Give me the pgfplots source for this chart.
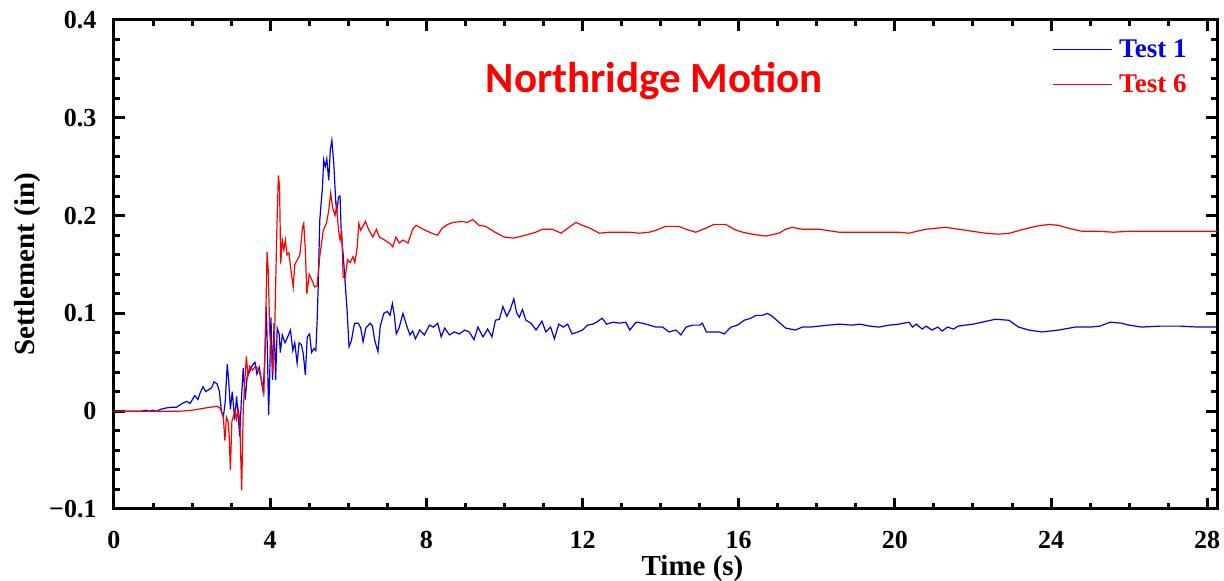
\documentclass[border=0pt]{standalone}
\usepackage{pgfplots}
\pgfplotsset{compat=1.18}
\usepackage{fontspec}
\setmainfont{Liberation Serif}
\newfontfamily\titlefont{Carlito}
\definecolor{tblue}{RGB}{0,0,225}
\definecolor{tred}{RGB}{255,0,0}
\begin{document}
\begin{tikzpicture}
\begin{axis}[
  line width=3pt,
  axis line style={line width=3pt},
  scale only axis, width=1103pt, height=489pt,
  xmin=0, xmax=28.25, ymin=-0.1, ymax=0.4,
  xtick={0,4,8,12,16,20,24,28}, xticklabels={0,4,8,12,16,20,24,28},
  ytick={-0.1,0,0.1,0.2,0.3,0.4}, yticklabels={−0.1,0,0.1,0.2,0.3,0.4},
  minor x tick num=3, minor y tick num=4,
  tick align=inside,
  major tick length=11pt, minor tick length=6pt,
  every tick/.style={black, line width=3pt},
  tick label style={font=\bfseries\fontsize{26}{26}\selectfont},
  yticklabel style={inner sep=0pt, anchor=east},
  xticklabel style={inner sep=0pt, anchor=north},
  yticklabel shift=16pt, xticklabel shift=21pt,
  xlabel={Time (s)}, ylabel={Settlement (in)},
  label style={font=\bfseries\fontsize{29}{29}\selectfont, inner sep=0pt},
  ylabel style={at={(axis description cs:-0.078,0.5)}, anchor=center},
  xlabel style={at={(axis description cs:0.5245,-0.1227)}, anchor=center},
  legend style={at={(1,1)}, anchor=north east, xshift=-27pt, yshift=-16pt, draw=none, fill=none,
    font=\bfseries\fontsize{27}{30}\selectfont, inner sep=0pt, row sep=12pt, column sep=5pt},
  legend cell align=left,
  legend image code/.code={\draw[#1] (0pt,0pt) -- (59pt,0pt);},
  clip=true,
]
\addplot[tblue, line width=1.2pt] coordinates {
(0,0) (0.7,0) (0.8,0.001) (0.9,0) (1.0,0.001) (1.1,0.0) (1.2,0.002) (1.3,0.003) (1.45,0.004) (1.6,0.004) (1.75,0.008) (1.86,0.010) (1.95,0.008) (2.07,0.016) (2.15,0.012) (2.2,0.018) (2.28,0.025) (2.35,0.020) (2.42,0.022) (2.5,0.024) (2.56,0.030) (2.64,0.028) (2.70,0.020) (2.75,0.000) (2.80,-0.006) (2.85,0.010) (2.90,0.048) (2.94,0.030) (2.98,0.002) (3.03,0.020) (3.09,-0.009) (3.14,0.015) (3.18,-0.005) (3.22,-0.026) (3.26,0.010) (3.31,0.044) (3.36,0.012) (3.41,0.035) (3.47,0.040) (3.53,0.046) (3.61,0.050) (3.66,0.038) (3.72,0.045) (3.78,0.030) (3.82,0.020) (3.86,0.052) (3.90,0.107) (3.93,0.060) (3.96,-0.004) (3.99,0.040) (4.02,0.096) (4.06,0.032) (4.10,0.090) (4.14,0.032) (4.18,0.085) (4.23,0.079) (4.26,0.060) (4.31,0.078) (4.38,0.070) (4.44,0.075) (4.52,0.083) (4.58,0.062) (4.63,0.070) (4.69,0.049) (4.74,0.070) (4.80,0.068) (4.85,0.058) (4.90,0.037) (4.95,0.076) (5.01,0.079) (5.06,0.060) (5.12,0.064) (5.17,0.062) (5.20,0.090) (5.23,0.127) (5.27,0.195) (5.31,0.215) (5.34,0.229) (5.37,0.257) (5.41,0.250) (5.45,0.258) (5.50,0.236) (5.54,0.267) (5.58,0.277) (5.63,0.253) (5.68,0.213) (5.71,0.205) (5.75,0.219) (5.79,0.220) (5.82,0.182) (5.87,0.160) (5.91,0.137) (5.97,0.103) (6.02,0.066) (6.08,0.072) (6.16,0.090) (6.26,0.090) (6.32,0.085) (6.38,0.071) (6.45,0.085) (6.56,0.090) (6.62,0.087) (6.68,0.072) (6.76,0.061) (6.82,0.087) (6.91,0.100) (7.0,0.102) (7.07,0.098) (7.13,0.110) (7.18,0.098) (7.23,0.079) (7.30,0.085) (7.40,0.100) (7.50,0.087) (7.58,0.078) (7.65,0.082) (7.72,0.074) (7.83,0.083) (7.95,0.078) (8.08,0.088) (8.18,0.086) (8.29,0.090) (8.38,0.076) (8.47,0.085) (8.59,0.078) (8.72,0.081) (8.85,0.079) (8.98,0.083) (9.10,0.081) (9.22,0.073) (9.32,0.086) (9.45,0.076) (9.57,0.084) (9.68,0.076) (9.77,0.093) (9.87,0.094) (9.96,0.107) (10.06,0.097) (10.15,0.104) (10.24,0.115) (10.31,0.101) (10.38,0.096) (10.46,0.104) (10.55,0.093) (10.68,0.090) (10.81,0.083) (10.96,0.092) (11.06,0.081) (11.18,0.086) (11.28,0.074) (11.39,0.089) (11.51,0.086) (11.62,0.089) (11.73,0.079) (11.88,0.081) (12.0,0.083) (12.13,0.088) (12.26,0.089) (12.36,0.091) (12.50,0.095) (12.62,0.089) (12.78,0.091) (12.94,0.090) (13.11,0.091) (13.21,0.083) (13.37,0.091) (13.54,0.090) (13.71,0.088) (13.88,0.086) (14.05,0.086) (14.22,0.081) (14.39,0.083) (14.52,0.078) (14.65,0.086) (14.82,0.088) (15.0,0.088) (15.07,0.090) (15.17,0.081) (15.33,0.081) (15.50,0.081) (15.63,0.079) (15.80,0.086) (15.97,0.088) (16.14,0.093) (16.31,0.095) (16.44,0.098) (16.61,0.098) (16.73,0.100) (16.86,0.097) (17.03,0.091) (17.20,0.085) (17.45,0.083) (17.63,0.086) (17.84,0.086) (18.06,0.087) (18.3,0.088) (18.57,0.089) (18.9,0.088) (19.1,0.089) (19.35,0.087) (19.59,0.086) (19.85,0.088) (20.1,0.089) (20.36,0.091) (20.45,0.086) (20.55,0.089) (20.7,0.084) (20.8,0.087) (20.95,0.083) (21.1,0.086) (21.21,0.082) (21.35,0.086) (21.5,0.084) (21.62,0.087) (21.8,0.088) (22.0,0.089) (22.23,0.091) (22.57,0.094) (22.92,0.093) (23.17,0.086) (23.43,0.083) (23.77,0.081) (24.2,0.083) (24.62,0.086) (25.0,0.086) (25.25,0.087) (25.52,0.091) (25.8,0.090) (26.0,0.088) (26.32,0.086) (26.8,0.087) (27.3,0.087) (27.77,0.086) (28.25,0.086)
};
\addlegendentry{\textcolor{tblue}{Test 1}}
\addplot[tred, line width=1.2pt] coordinates {
(0,0) (1.7,0) (2.0,0.001) (2.3,0.003) (2.46,0.004) (2.64,0.005) (2.72,0.003) (2.76,-0.001) (2.80,-0.006) (2.84,-0.030) (2.88,-0.006) (2.92,-0.010) (2.95,-0.025) (2.98,-0.060) (3.02,-0.010) (3.06,-0.005) (3.10,0.000) (3.14,-0.008) (3.18,0.002) (3.22,-0.008) (3.27,-0.081) (3.31,0.001) (3.35,0.030) (3.39,0.056) (3.43,0.036) (3.48,0.046) (3.55,0.042) (3.62,0.046) (3.70,0.043) (3.76,0.035) (3.84,0.020) (3.88,0.080) (3.92,0.163) (3.95,0.144) (3.99,0.080) (4.07,0.039) (4.12,0.090) (4.17,0.185) (4.21,0.241) (4.24,0.230) (4.27,0.151) (4.31,0.175) (4.35,0.165) (4.39,0.175) (4.43,0.160) (4.48,0.162) (4.53,0.145) (4.59,0.127) (4.63,0.150) (4.70,0.155) (4.76,0.160) (4.83,0.188) (4.86,0.192) (4.90,0.165) (4.94,0.120) (5.0,0.140) (5.07,0.134) (5.14,0.127) (5.20,0.128) (5.27,0.158) (5.36,0.185) (5.44,0.192) (5.50,0.205) (5.55,0.223) (5.60,0.208) (5.66,0.200) (5.70,0.210) (5.75,0.185) (5.79,0.175) (5.83,0.185) (5.87,0.137) (5.92,0.136) (5.98,0.155) (6.05,0.152) (6.12,0.158) (6.17,0.152) (6.23,0.168) (6.27,0.192) (6.32,0.185) (6.44,0.194) (6.52,0.186) (6.63,0.178) (6.72,0.186) (6.80,0.178) (6.93,0.175) (7.05,0.172) (7.14,0.168) (7.22,0.178) (7.31,0.172) (7.40,0.175) (7.53,0.172) (7.65,0.186) (7.74,0.190) (7.92,0.186) (8.08,0.183) (8.20,0.181) (8.29,0.180) (8.40,0.187) (8.55,0.191) (8.68,0.193) (8.90,0.194) (9.05,0.193) (9.19,0.196) (9.35,0.190) (9.52,0.189) (9.76,0.183) (10.0,0.178) (10.24,0.177) (10.54,0.180) (10.80,0.183) (10.97,0.186) (11.23,0.186) (11.45,0.182) (11.62,0.187) (11.83,0.193) (12.0,0.190) (12.2,0.187) (12.43,0.182) (12.69,0.183) (12.94,0.183) (13.2,0.183) (13.45,0.182) (13.71,0.183) (13.88,0.185) (14.13,0.189) (14.47,0.189) (14.65,0.186) (14.90,0.183) (15.15,0.187) (15.37,0.191) (15.67,0.191) (15.88,0.186) (16.1,0.183) (16.35,0.181) (16.69,0.179) (17.03,0.182) (17.2,0.186) (17.37,0.188) (17.63,0.186) (18.06,0.186) (18.57,0.183) (19.1,0.183) (19.6,0.183) (20.1,0.183) (20.36,0.182) (20.78,0.186) (21.30,0.188) (21.64,0.186) (21.98,0.184) (22.32,0.182) (22.66,0.181) (22.94,0.182) (23.2,0.185) (23.6,0.189) (23.94,0.191) (24.2,0.190) (24.45,0.187) (24.79,0.184) (25.2,0.184) (25.6,0.183) (26.0,0.184) (26.5,0.184) (27.0,0.184) (27.5,0.184) (28.25,0.184)
};
\addlegendentry{\textcolor{tred}{Test 6}}
\node[text=tred, font=\titlefont\bfseries\fontsize{43}{43}\selectfont] at (axis cs:13.84,0.338) {Northridge Motion};
\end{axis}
\pgfresetboundingbox
\path[use as bounding box] ([xshift=-114pt,yshift=-72pt]current axis.south west) rectangle ([xshift=7pt,yshift=20pt]current axis.north east);
\end{tikzpicture}
\end{document}
